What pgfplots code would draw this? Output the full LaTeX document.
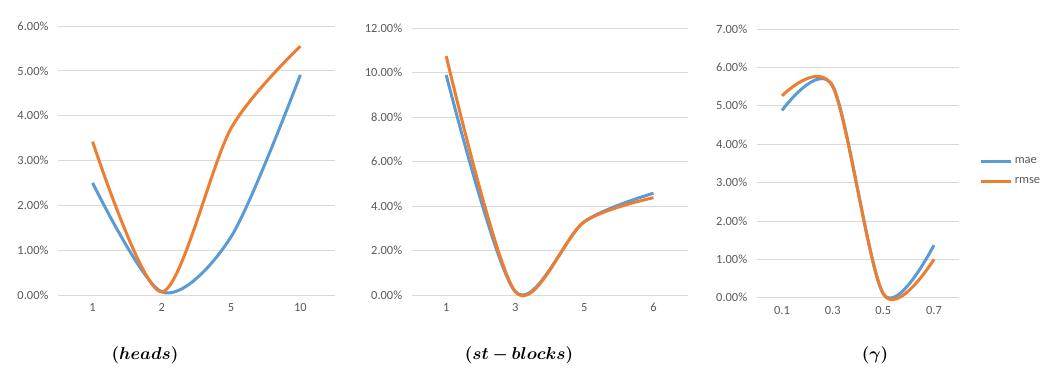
\documentclass[border=0pt]{standalone}
\usepackage{pgfplots}
\pgfplotsset{compat=1.18}
\usepackage{fontspec}
\setmainfont{Carlito}
\usepackage{bm}

\definecolor{maeblue}{HTML}{5B9BD5}
\definecolor{rmseorange}{HTML}{ED7D31}
\definecolor{ticktext}{HTML}{595959}
\definecolor{gridgray}{HTML}{D9D9D9}

\newcommand{\tickfont}{\fontsize{12.5}{15}\selectfont}
\newcommand{\capfont}{\fontsize{16.5}{19}\selectfont}

\pgfplotsset{
  excelstyle/.style={
    scale only axis,
    anchor=south west,
    clip=false,
    axis line style={draw=none},
    tick style={draw=none},
    ymajorgrids,
    major grid style={gridgray, line width=0.8bp},
    xmin=-0.5, xmax=3.5,
    xtick={0,1,2,3},
    ymin=0,
    /pgf/number format/assume math mode=true,
    yticklabel={\pgfmathprintnumber[fixed,fixed zerofill,precision=2]{\tick}\%},
    ticklabel style={font=\tickfont, text=ticktext},
    yticklabel style={xshift=-6bp},
    xticklabel style={yshift=-5bp},
    every axis plot/.append style={smooth, tension=0.5, line width=3bp, no marks},
  },
}

\begin{document}
\begin{tikzpicture}
\path[use as bounding box] (0,0) rectangle (1054bp,385bp);

% heads
\begin{axis}[excelstyle,
  at={(58bp,90bp)}, width=277bp, height=269bp,
  ymax=6, ytick={0,1,...,6},
  xticklabels={1,2,5,10}]
\addplot[maeblue] coordinates {(0,2.50) (1,0.07) (2,1.30) (3,4.91)};
\addplot[rmseorange] coordinates {(0,3.42) (1,0.07) (2,3.72) (3,5.55)};
\end{axis}

% st-blocks
\begin{axis}[excelstyle,
  at={(411.7bp,90bp)}, width=276.3bp, height=266.7bp,
  ymax=12, ytick={0,2,...,12},
  xticklabels={1,3,5,6}]
\addplot[maeblue] coordinates {(0,9.90) (1,0.15) (2,3.30) (3,4.58)};
\addplot[rmseorange] coordinates {(0,10.75) (1,0.15) (2,3.30) (3,4.38)};
\end{axis}

% gamma
\begin{axis}[excelstyle,
  at={(756.7bp,87.3bp)}, width=202.6bp, height=268.7bp,
  ymax=7, ytick={0,1,...,7},
  xticklabels={0.1,0.3,0.5,0.7},
  legend style={at={(1.1,0.47)}, anchor=west, draw=none, fill=none,
    font=\tickfont, text=ticktext, row sep=8bp,
    cells={anchor=west}, inner sep=0pt},
  legend image code/.code={\draw[#1, line width=3bp] (0bp,0bp) -- (30bp,0bp);}]
\addplot[maeblue] coordinates {(0,4.88) (1,5.52) (2,0.10) (3,1.37)};
\addplot[rmseorange] coordinates {(0,5.26) (1,5.50) (2,0.10) (3,1.00)};
\legend{mae, rmse}
\end{axis}

\node at (145bp,30bp) {\capfont$\bm{(heads)}$};
\node at (519bp,30bp) {\capfont$\bm{(st-blocks)}$};
\node at (875bp,30bp) {\capfont$\bm{(\gamma)}$};
\end{tikzpicture}
\end{document}
